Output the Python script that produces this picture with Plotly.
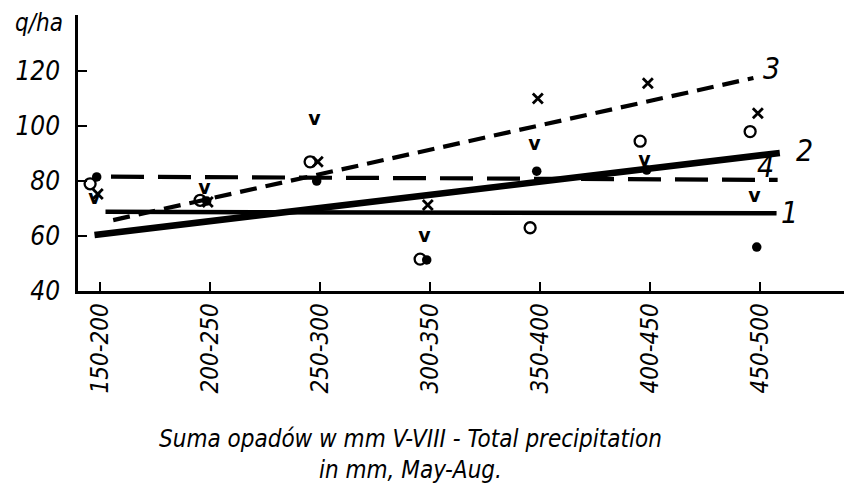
import plotly.graph_objects as go

categories = ["150-200", "200-250", "250-300", "300-350", "350-400", "400-450", "450-500"]
y_ticks = [40, 60, 80, 100, 120]

# point series (q/ha)
filled_dot = [81.5, 72.7, 80.0, 51.3, 83.6, 84.0, 56.0]
open_circle = [79.0, 73.0, 87.0, 51.6, 63.0, 94.5, 98.0]
cross = [75.3, 72.4, 87.0, 71.3, 110.0, 115.6, 104.7]
vee = [73.5, 77.0, 102.0, 59.6, 93.0, 87.3, 74.0]

# trend lines (category index, q/ha)
line1_x = [0.05, 6.15]
line1_y = [68.8, 68.3]
line2_x = [-0.05, 6.18]
line2_y = [60.4, 90.2]
line3_x = [0.12, 5.94]
line3_y = [65.8, 117.5]
line4_x = [0.10, 6.16]
line4_y = [81.6, 80.4]

line_labels = ["1", "2", "3", "4"]
label_x = [6.27, 6.40, 6.10, 6.05]
label_y = [68.6, 91.0, 121.0, 85.2]

FONT = "DejaVu Sans Condensed, DejaVu Sans, sans-serif"

xi = list(range(len(categories)))
fig = go.Figure()

fig.add_trace(go.Scatter(x=line1_x, y=line1_y, mode="lines",
                         line=dict(color="black", width=4.5)))
fig.add_trace(go.Scatter(x=line2_x, y=line2_y, mode="lines",
                         line=dict(color="black", width=6.5)))
fig.add_trace(go.Scatter(x=line3_x, y=line3_y, mode="lines",
                         line=dict(color="black", width=4.2, dash="17px,9px")))
fig.add_trace(go.Scatter(x=line4_x, y=line4_y, mode="lines",
                         line=dict(color="black", width=4.2, dash="33px,14px")))

fig.add_trace(go.Scatter(x=[v - 0.03 for v in xi], y=filled_dot, mode="markers",
                         marker=dict(symbol="circle", size=9.5, color="black")))
fig.add_trace(go.Scatter(x=[v - 0.09 for v in xi], y=open_circle, mode="markers",
                         marker=dict(symbol="circle-open", size=11, color="black",
                                     line=dict(width=2.3, color="black"))))
fig.add_trace(go.Scatter(x=[v - 0.02 for v in xi], y=cross, mode="markers",
                         marker=dict(symbol="x-thin-open", size=10, color="black",
                                     line=dict(width=2.8, color="black"))))
fig.add_trace(go.Scatter(x=[v - 0.05 for v in xi], y=vee, mode="text",
                         text=["v"] * len(xi), textposition="middle center",
                         textfont=dict(family="DejaVu Sans", size=19, color="black",
                                       weight="bold", style="normal")))

for t, lx, ly in zip(line_labels, label_x, label_y):
    fig.add_annotation(x=lx, y=ly, text=t, showarrow=False,
                       font=dict(family=FONT, size=30, color="black", style="italic"))

fig.add_annotation(xref="paper", yref="paper", x=-0.017, y=0.972, xanchor="right",
                   yanchor="middle", text="q/ha", showarrow=False,
                   font=dict(family=FONT, size=24, color="black", style="italic"))

fig.add_annotation(xref="paper", yref="paper", x=0.429, y=-0.48, xanchor="center",
                   yanchor="top",
                   text="Suma opadów w mm V-VIII - Total precipitation<br>in mm, May-Aug.",
                   showarrow=False,
                   font=dict(family=FONT, size=24, color="black", style="italic"))

# page body has an 8px default margin: compensate in size and margins
fig.update_layout(
    width=844, height=486,
    margin=dict(l=70, r=0, t=7, b=203, autoexpand=False),
    paper_bgcolor="white", plot_bgcolor="white",
    showlegend=False,
    font=dict(family=FONT, color="black", style="italic"),
)
fig.update_xaxes(
    range=[-0.2, 6.836], tickvals=xi, ticktext=categories, tickangle=-90,
    showgrid=False, zeroline=False, showline=True, linecolor="black", linewidth=2.5,
    ticks="inside", ticklen=9, tickwidth=2, tickcolor="black", automargin=False,
    tickfont=dict(family=FONT, size=24, style="italic"),
)
fig.update_yaxes(
    range=[40, 140.4], tickvals=y_ticks, showgrid=False, zeroline=False,
    showline=True, linecolor="black", linewidth=2.5, automargin=False,
    ticks="inside", ticklen=9, tickwidth=2, tickcolor="black",
    tickfont=dict(family=FONT, size=26, style="italic"), ticklabelstandoff=10,
)

fig.write_html("out.html")
